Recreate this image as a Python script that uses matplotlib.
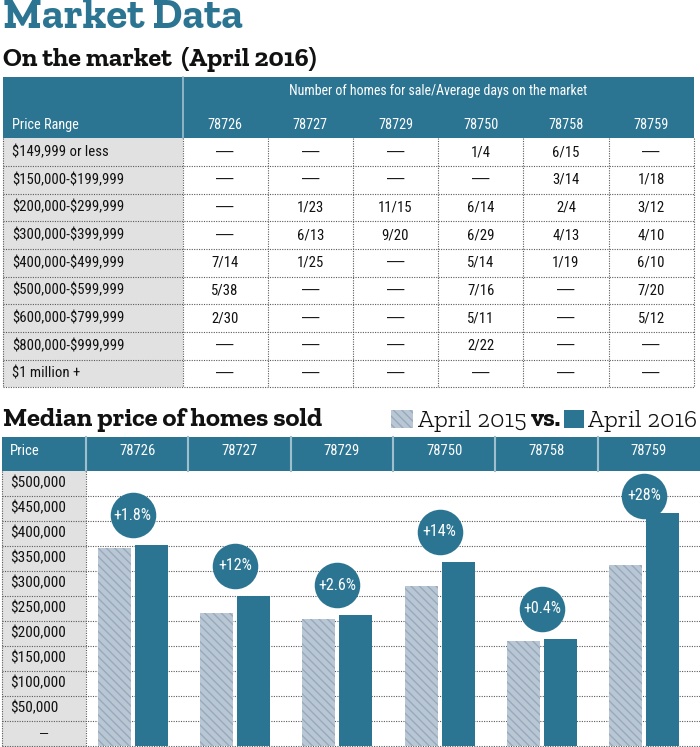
import matplotlib
matplotlib.use('Agg')
import matplotlib.pyplot as plt
from matplotlib.patches import Rectangle
from matplotlib.transforms import blended_transform_factory
import numpy as np

# ------------------------------------------------------------------ data
zip_codes = ['78726', '78727', '78729', '78750', '78758', '78759']
price_ranges = ['$149,999 or less', '$150,000-$199,999', '$200,000-$299,999',
                '$300,000-$399,999', '$400,000-$499,999', '$500,000-$599,999',
                '$600,000-$799,999', '$800,000-$999,999', '$1 million +']
homes_78726 = ['—', '—', '—', '—', '7/14', '5/38', '2/30', '—', '—']
homes_78727 = ['—', '—', '1/23', '6/13', '1/25', '—', '—', '—', '—']
homes_78729 = ['—', '—', '11/15', '9/20', '—', '—', '—', '—', '—']
homes_78750 = ['1/4', '—', '6/14', '6/29', '5/14', '7/16', '5/11', '2/22', '—']
homes_78758 = ['6/15', '3/14', '2/4', '4/13', '1/19', '—', '—', '—', '—']
homes_78759 = ['—', '1/18', '3/12', '4/10', '6/10', '7/20', '5/12', '—', '—']

median_2015 = [395000, 266000, 253000, 320000, 210000, 361000]
median_2016 = [401000, 300000, 261000, 368000, 214000, 466000]
change_labels = ['+1.8%', '+12%', '+2.6%', '+14%', '+0.4%', '+28%']
price_ticks = [500000, 450000, 400000, 350000, 300000, 250000, 200000,
               150000, 100000, 50000, 0]
price_tick_labels = ['$500,000', '$450,000', '$400,000', '$350,000', '$300,000',
                     '$250,000', '$200,000', '$150,000', '$100,000', '$50,000', '–']

# ------------------------------------------------------------------ style
plt.rcParams['text.parse_math'] = False
TEAL = '#2c7592'
LIGHT_DIV = '#9fbfce'
GRAY = '#e1e1e1'
DOT = '#5a5a5a'
HATCH_FACE = '#b9c7d4'
HATCH_LINE = '#97aabc'
SANS = ['Roboto Condensed', 'DejaVu Sans']
DASH_FONT = ['Liberation Sans', 'DejaVu Sans']
SERIF = ['Zilla Slab', 'DejaVu Serif']
plt.rcParams['hatch.linewidth'] = 1.0

W, H = 700, 747
fig = plt.figure(figsize=(7, 7.47), dpi=100)
bg = fig.add_axes([0, 0, 1, 1])
bg.set_xlim(0, W)
bg.set_ylim(H, 0)
bg.axis('off')

dot_ls = (0, (1, 1.2))


def cell_text(x, y, s, **kw):
    if s == '—':
        bg.text(x, y, s, color='#111111', fontsize=12.5, family=DASH_FONT,
                ha='center', va='center')
    else:
        bg.text(x, y, s, color='#111111', fontsize=10.6, family=SANS, va='center', **kw)


# ------------------------------------------------------------------ titles
bg.text(3, 28.5, 'Market Data', color=TEAL, fontsize=31, family=SERIF,
        weight='bold', ha='left', va='baseline')
bg.text(3, 65.5, 'On the market  (April 2016)', color='#111111', fontsize=19,
        family=SERIF, weight='bold', ha='left', va='baseline')
bg.text(3, 426.5, 'Median price of homes sold', color='#111111', fontsize=19.2,
        family=SERIF, weight='bold', ha='left', va='baseline')

# ------------------------------------------------------------------ table
t_left, t_right = 2.7, 693.7
t_top, t_head_bot = 77.3, 138.3
row_h = 27.67
col0_right = 182.5
col_w = (t_right - col0_right) / len(zip_codes)
n_rows = len(price_ranges)
t_bot = t_head_bot + n_rows * row_h

bg.add_patch(Rectangle((t_left, t_top), t_right - t_left, t_head_bot - t_top,
                       facecolor=TEAL, edgecolor='none'))
bg.plot([col0_right, col0_right], [t_top, t_head_bot], color=LIGHT_DIV, lw=1.2)
bg.text((col0_right + t_right) / 2, 91, 'Number of homes for sale/Average days on the market',
        color='white', fontsize=10, family=SANS, ha='center', va='center')
bg.text(12, 125, 'Price Range', color='white', fontsize=10.3, family=SANS,
        ha='left', va='center')
columns = [homes_78726, homes_78727, homes_78729, homes_78750, homes_78758, homes_78759]
for j, z in enumerate(zip_codes):
    cx = col0_right + (j + 0.5) * col_w
    bg.text(cx, 125, z, color='white', fontsize=10.3, family=SANS, ha='center', va='center')

bg.add_patch(Rectangle((t_left, t_head_bot), col0_right - t_left, n_rows * row_h,
                       facecolor=GRAY, edgecolor='none'))
for i in range(1, n_rows + 1):
    yy = t_head_bot + i * row_h
    bg.plot([t_left, t_right], [yy, yy], color=DOT, lw=0.8, ls=dot_ls)
for xx in [t_left, col0_right] + [col0_right + (j + 1) * col_w for j in range(len(zip_codes))]:
    bg.plot([xx, xx], [t_head_bot, t_bot], color=DOT, lw=0.8, ls=dot_ls)

for i, pr in enumerate(price_ranges):
    cy = t_head_bot + (i + 0.5) * row_h
    cell_text(12, cy, pr, ha='left')
    for j, col in enumerate(columns):
        cx = col0_right + (j + 0.5) * col_w
        cell_text(cx, cy, col[i], ha='center')

# ------------------------------------------------------------------ chart frame
c_left, c_col0 = 2.0, 86.0
c_head_top, c_head_bot, c_bot = 437.3, 470.7, 745.7
c_colw = (W - c_col0) / len(zip_codes)

bg.add_patch(Rectangle((c_left, c_head_top), W - c_left, c_head_bot - c_head_top,
                       facecolor=TEAL, edgecolor='none'))
for k in range(len(zip_codes)):
    xx = c_col0 + k * c_colw
    bg.plot([xx, xx], [c_head_top, c_head_bot], color=LIGHT_DIV, lw=1.5)
bg.text(10, 451, 'Price', color='white', fontsize=10.5, family=SANS, ha='left', va='center')
for k, z in enumerate(zip_codes):
    bg.text(c_col0 + (k + 0.5) * c_colw, 451, z, color='white', fontsize=10.5,
            family=SANS, ha='center', va='center')
bg.add_patch(Rectangle((c_left, c_head_bot), c_col0 - c_left, H - c_head_bot,
                       facecolor=GRAY, edgecolor='none'))
for xx in [c_left, c_col0]:
    bg.plot([xx, xx], [c_head_bot, H], color=DOT, lw=0.8, ls=dot_ls)

# ------------------------------------------------------------------ bar chart
ax = fig.add_axes([c_col0 / W, (H - c_bot) / H, (W - c_col0) / W, (c_bot - c_head_bot) / H])
ax.set_xlim(0, len(zip_codes))
ax.set_ylim(0, 550000)
ax.axis('off')
ax.patch.set_alpha(0)

trans = blended_transform_factory(bg.transData, ax.transData)
for v in price_ticks:
    ax.plot([c_left, W], [v, v], transform=trans, color=DOT, lw=0.8, ls=dot_ls,
            clip_on=False, zorder=1)
for v, lab in zip(price_ticks, price_tick_labels):
    if lab == '–':
        ax.text((c_left + c_col0) / 2, v + 25000, lab, transform=trans, fontsize=10.5,
                family=DASH_FONT, ha='center', va='center', color='#111111')
    else:
        ax.text(10, v + 25000, lab, transform=trans, fontsize=11,
                family=SANS, ha='left', va='center', color='#111111')

x = np.arange(len(zip_codes)) + 0.5 - 0.044
bw = 0.3225
off = 0.181
ax.bar(x - off, median_2015, width=bw, color=HATCH_FACE, edgecolor=HATCH_LINE,
       hatch='\\\\\\\\', linewidth=0, zorder=3)
ax.bar(x + off, median_2016, width=bw, color=TEAL, linewidth=0, zorder=3)

circ_y = [min(v + 60000, 500000) for v in median_2016]
ax.scatter(x, circ_y, s=1075, color=TEAL, linewidths=0, zorder=5, clip_on=False)
for xi, yi, lab in zip(x, circ_y, change_labels):
    ax.text(xi, yi, lab, color='white', fontsize=11.5, family=SANS,
            ha='center', va='center', zorder=6)

# ------------------------------------------------------------------ legend (right-aligned)
renderer = fig.canvas.get_renderer()
base = 426.5
t16 = bg.text(697, base, 'April 2016', ha='right', va='baseline', fontsize=18,
              family=SERIF, weight='light', color='#111111')
x0 = t16.get_window_extent(renderer).x0
sq = 20
bg.add_patch(Rectangle((x0 - 4 - sq, 410), sq, 17.7, facecolor=TEAL, edgecolor='none'))
tvs = bg.text(x0 - 4 - sq - 3, base, 'vs.', ha='right', va='baseline', fontsize=18,
              family=SERIF, weight='bold', color='#111111')
x1 = tvs.get_window_extent(renderer).x0
t15 = bg.text(x1 - 4, base, 'April 2015', ha='right', va='baseline', fontsize=18,
              family=SERIF, weight='light', color='#111111')
x2 = t15.get_window_extent(renderer).x0
bg.add_patch(Rectangle((x2 - 5 - 21.5, 410), 21.5, 17.7, facecolor=HATCH_FACE,
                       edgecolor=HATCH_LINE, hatch='\\\\\\\\', linewidth=0))

fig.savefig('out.png', dpi=100)
